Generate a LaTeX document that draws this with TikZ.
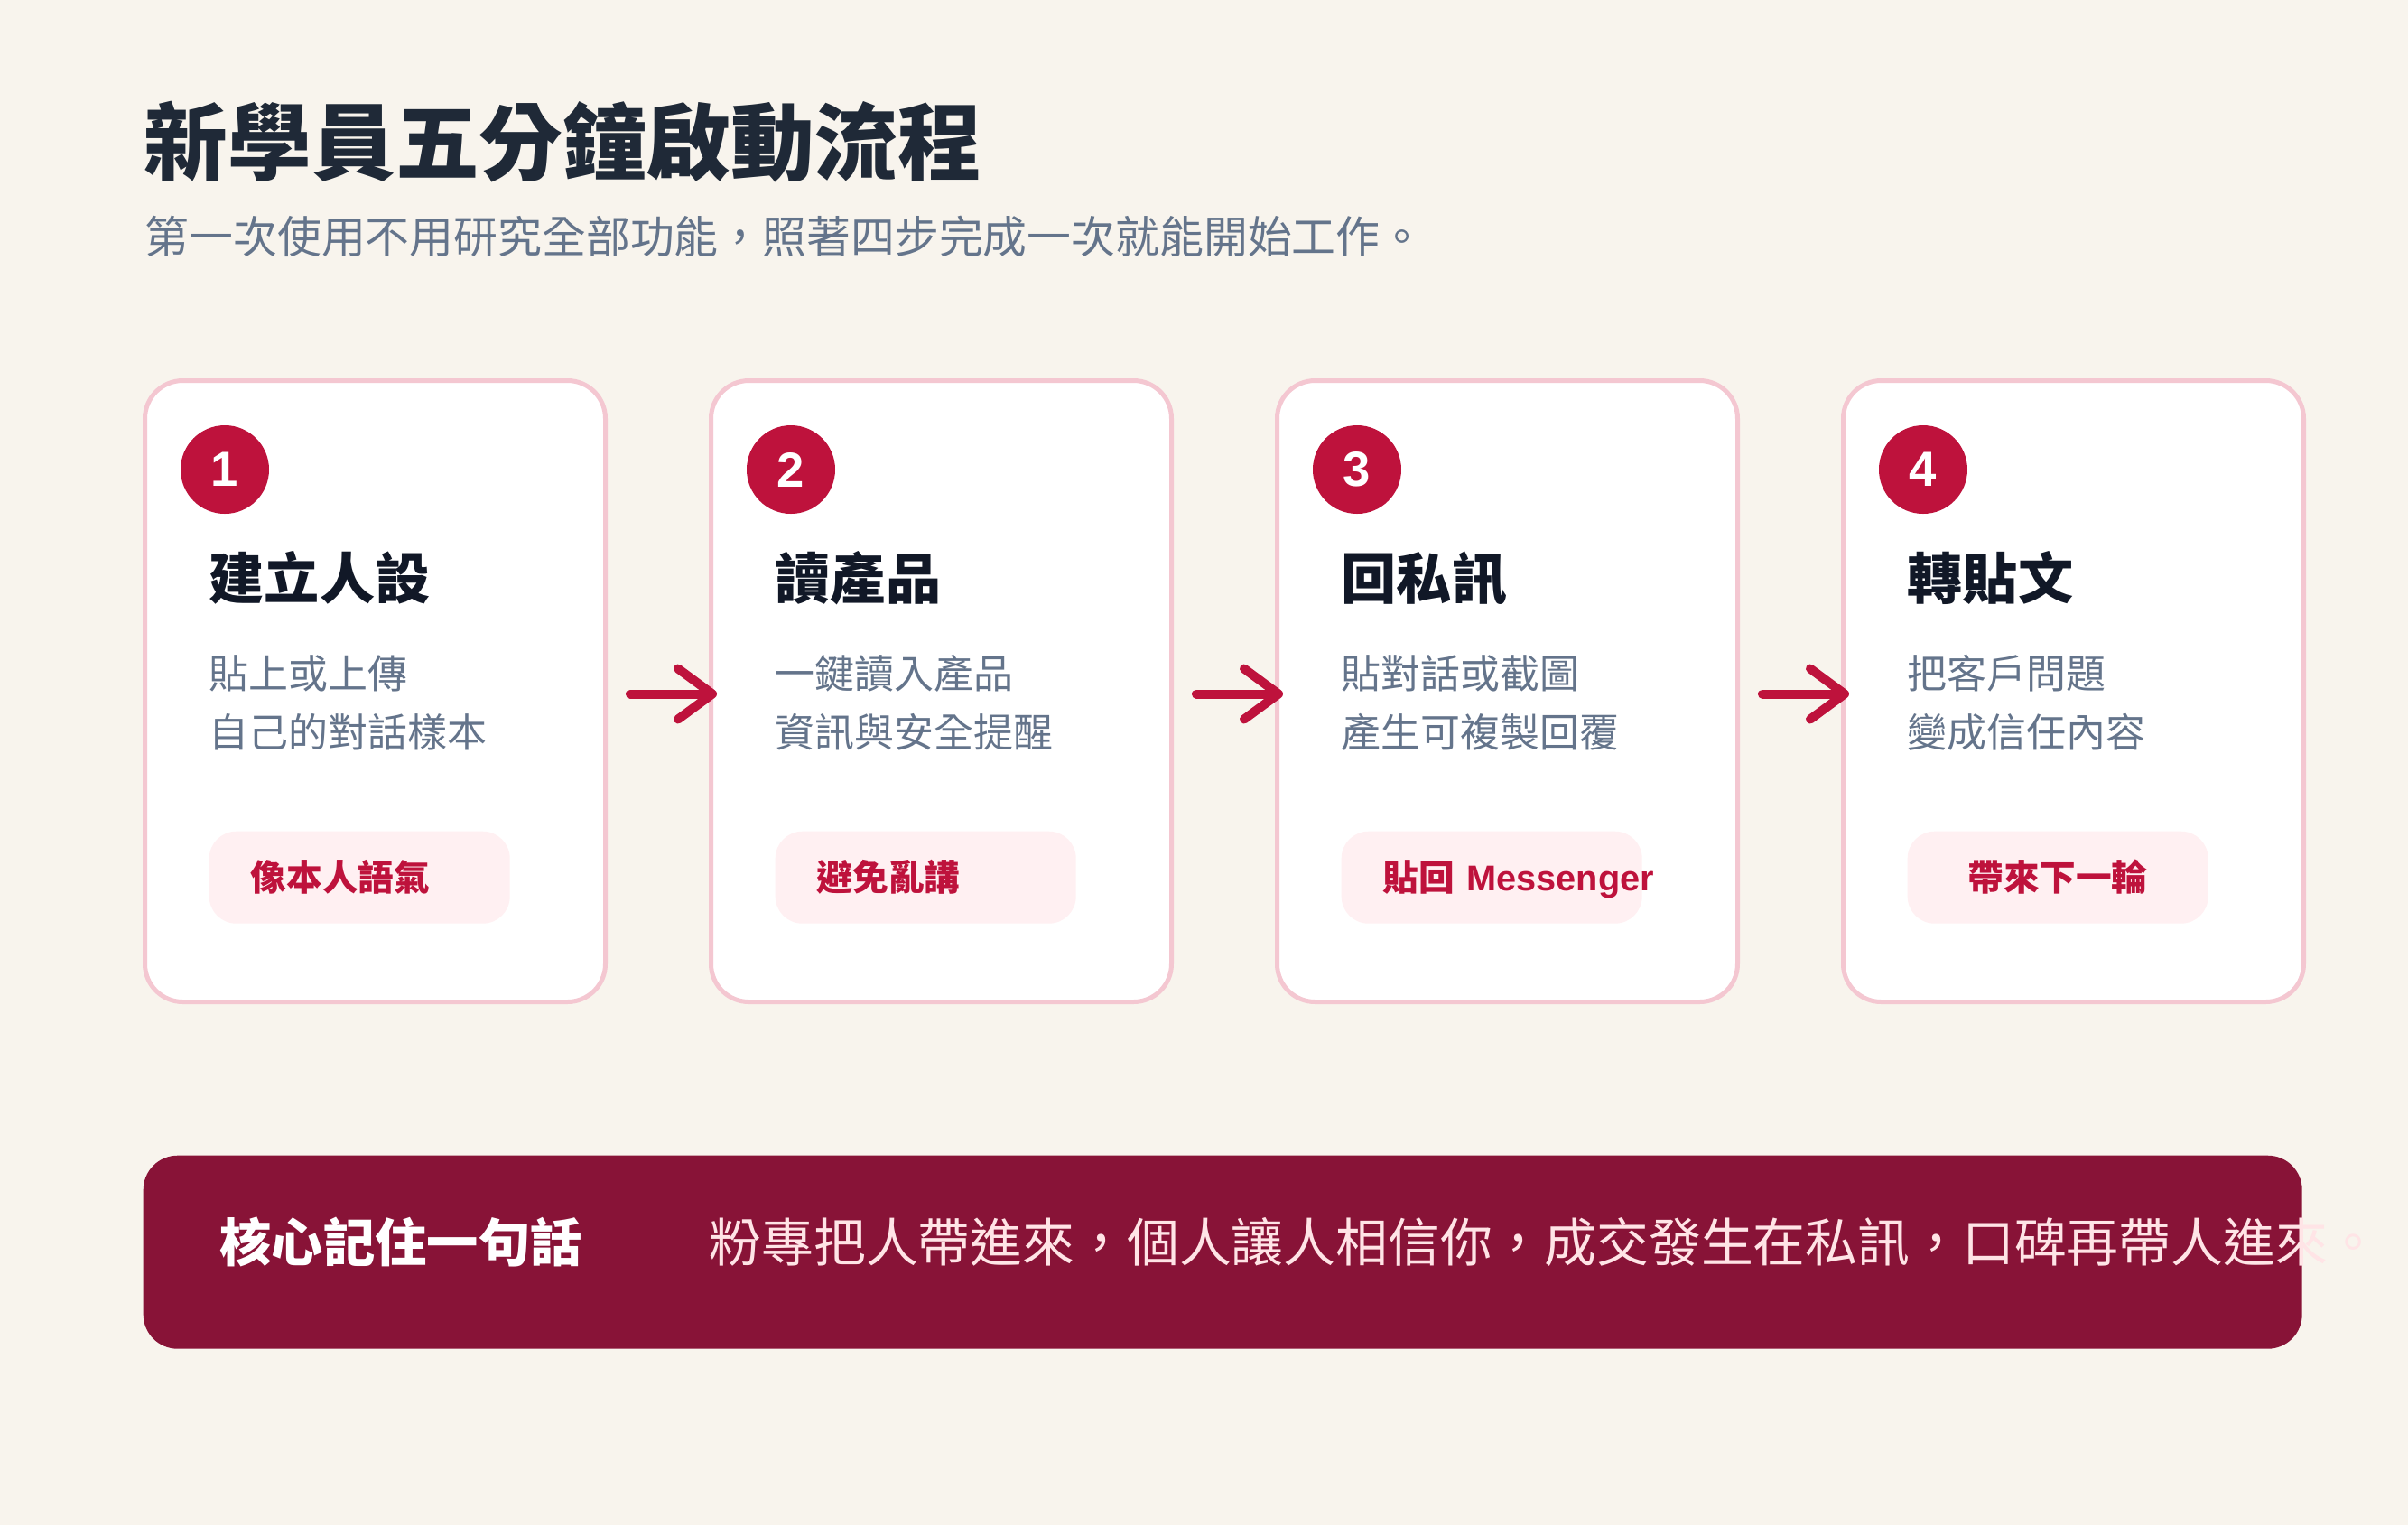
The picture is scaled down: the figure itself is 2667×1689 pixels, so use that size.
\documentclass[tikz,border=0pt]{standalone}
\usepackage{fontspec}
\usepackage{xcolor}
\usepackage{tikz}
\usetikzlibrary{arrows.meta,positioning}
\setmainfont{Liberation Sans}
\newfontfamily\cjkfont{Noto Sans CJK TC}
\definecolor{FlowCream}{HTML}{F8F4ED}
\definecolor{FlowRose}{HTML}{BE123C}
\definecolor{FlowWine}{HTML}{881337}
\definecolor{FlowPink}{HTML}{F4C7D1}
\definecolor{FlowBlush}{HTML}{FFF0F2}
\definecolor{FlowInk}{HTML}{111827}
\definecolor{FlowNavy}{HTML}{1F2937}
\definecolor{FlowSlate}{HTML}{64748B}
\definecolor{FlowPale}{HTML}{FFE4E6}

\begin{document}
\begin{tikzpicture}[
        x=0.1mm, y=-0.1mm,
        card/.style={
                draw=FlowPink,
                line width=0.5mm,
                fill=white,
                rounded corners=4.2mm,
                minimum width=51mm,
                minimum height=68.8mm,
                inner sep=0pt
            },
        badge/.style={circle, fill=FlowRose, minimum size=9.8mm, inner sep=0pt,
                text=white, font=\fontsize{15.5}{18}\selectfont\bfseries},
        head/.style={anchor=base west, inner sep=0pt, text=FlowInk,
                font=\fontsize{17.4}{21}\cjkfont\bfseries},
        desc/.style={anchor=base west, inner sep=0pt, align=left, text=FlowSlate,
                font=\fontsize{12.5}{18.5}\cjkfont},
        tag/.style={
                anchor=north west,
                fill=FlowBlush,
                rounded corners=3mm,
                inner xsep=4.6mm, inner ysep=0pt,
                text width=24.1mm, % fixed pill, long labels run over
                minimum height=10.2mm,
                text height=3mm, text depth=0pt,
                align=left,
                text=FlowRose,
                font=\fontsize{11.3}{13}\cjkfont\bfseries
            },
        banner/.style={fill=FlowWine, rounded corners=3.8mm, minimum width=239.1mm,
                minimum height=21.4mm, inner sep=0pt},
        flow/.style={-{Straight Barb[length=3.8mm, width=5.6mm, round]}, line width=1mm,
                line cap=round, draw=FlowRose},
    ]

    \fill[FlowCream] (0,0) rectangle (2667,1689);
    \useasboundingbox (0,0) rectangle (2667,1689);

    \node[anchor=base west, inner sep=0pt, text=FlowNavy,
        font=\fontsize{26.4}{32}\cjkfont\bfseries] (title) at (159,192) {新學員五分鐘啟動流程};
    \node[anchor=base west, inner sep=0pt, text=FlowSlate,
        font=\fontsize{13.9}{17}\cjkfont] (subtitle) at (160,280)
        {第一次使用不用研究全部功能，照著四步完成一次就能開始工作。};

    \node[card] (step1) at (415.5,765.5) {};
    \node[card, right=11.2mm of step1] (step2) {};
    \node[card, right=11.2mm of step2] (step3) {};
    \node[card, right=11.2mm of step3] (step4) {};

    \node[badge] (num1) at ([shift={(91,101)}]step1.north west) {1};
    \node[head] (head1) at ([shift={(73,244)}]step1.north west) {建立人設};
    \node[desc] (desc1) at ([shift={(73,408)}]step1.north west) {貼上或上傳\\自己的對話樣本};
    \node[tag] (tag1) at ([shift={(73,501)}]step1.north west) {像本人語氣};

    \node[badge] (num2) at ([shift={(91,101)}]step2.north west) {2};
    \node[head] (head2) at ([shift={(73,244)}]step2.north west) {讀產品};
    \node[desc] (desc2) at ([shift={(73,408)}]step2.north west) {一鍵讀入產品\\資訊與安全提醒};
    \node[tag] (tag2) at ([shift={(73,501)}]step2.north west) {避免亂講};

    \node[badge] (num3) at ([shift={(91,101)}]step3.north west) {3};
    \node[head] (head3) at ([shift={(73,244)}]step3.north west) {回私訊};
    \node[desc] (desc3) at ([shift={(73,408)}]step3.north west) {貼對話或截圖\\產生可複製回覆};
    \node[tag] (tag3) at ([shift={(73,501)}]step3.north west) {\mbox{貼回 {\rmfamily Messenger}}};

    \node[badge] (num4) at ([shift={(91,101)}]step4.north west) {4};
    \node[head] (head4) at ([shift={(73,244)}]step4.north west) {轉貼文};
    \node[desc] (desc4) at ([shift={(73,408)}]step4.north west) {把客戶問題\\變成信任內容};
    \node[tag, align=center] (tag4) at ([shift={(73,501)}]step4.north west) {帶來下一輪};

    \draw[flow] ([shift={(25,3)}]step1.east) -- ([shift={(9,3)}]step2.west);
    \draw[flow] ([shift={(25,3)}]step2.east) -- ([shift={(9,3)}]step3.west);
    \draw[flow] ([shift={(25,3)}]step3.east) -- ([shift={(9,3)}]step4.west);

    \node[banner, anchor=north west] (core) at ([shift={(0,167)}]step1.south west) {};
    \node[anchor=base west, inner sep=0pt, text=white,
        font=\fontsize{16.3}{20}\cjkfont\bfseries] (motto) at ([shift={(85,11)}]core.west) {核心記住一句話};
    \node[anchor=base west, inner sep=0pt, text=FlowPale,
        font=\fontsize{16.45}{20}\cjkfont] (quote) at ([shift={(627,11)}]core.west)
        {粉專把人帶進來，個人讓人相信你，成交發生在私訊，口碑再帶人進來。};

\end{tikzpicture}
\end{document}
